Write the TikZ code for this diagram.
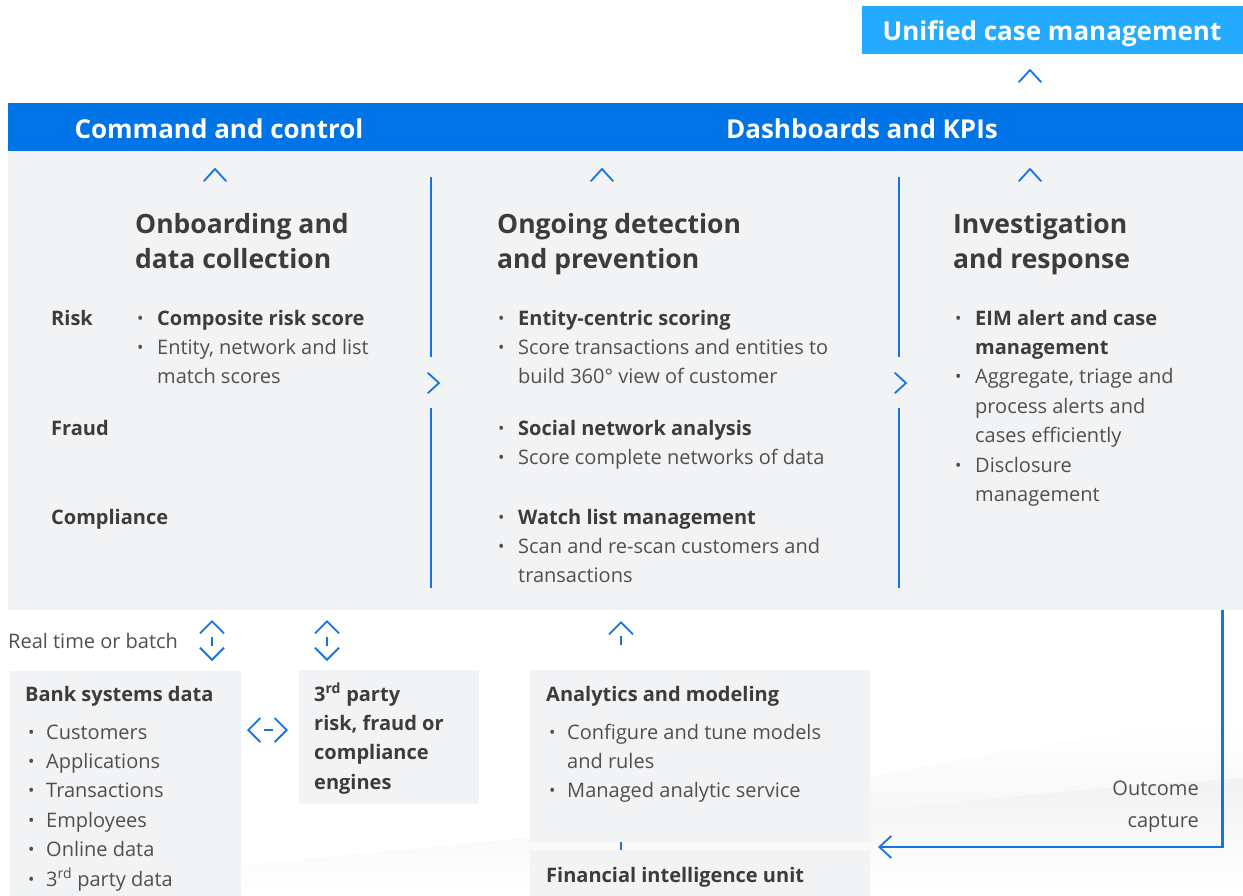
\documentclass[tikz,border=0pt]{standalone}
\usepackage{fontspec}
\setmainfont{Open Sans}
\usepackage{tikz}
\usetikzlibrary{arrows.meta, calc, positioning}

\definecolor{barblue}{HTML}{0073E6}
\definecolor{skyblue}{HTML}{24ABFF}
\definecolor{panelgrey}{HTML}{F2F3F5}
\definecolor{inkgrey}{HTML}{3C3C3C}
\definecolor{bodygrey}{HTML}{4F4F4F}
\definecolor{lineblue}{HTML}{1673E6}

\newcommand{\hdfont}{\fontsize{26.5}{35}\selectfont\bfseries}
\newcommand{\bdfont}{\fontsize{20}{29.4}\selectfont}
\newcommand{\barfont}{\fontsize{26}{30}\selectfont\bfseries}
\newcommand{\itm}[1][20pt]{\makebox[#1][l]{\raisebox{0.05em}{\scalebox{0.85}{\textbullet}}}}
\newcommand{\ind}[1][20pt]{\hspace*{#1}}
\newcommand{\bld}[1]{\textbf{\color{inkgrey}#1}}

\newcommand{\chevup}[2]{\draw[chev] ({#1-11},{#2+12}) -- (#1,#2) -- ({#1+11},{#2+12});}
\newcommand{\chevright}[2]{\draw[chev] ({#1-11},{#2-10}) -- (#1,#2) -- ({#1-11},{#2+10});}

\tikzset{
    boxnode/.style = {draw=none, fill=panelgrey, rectangle, inner sep=0em, anchor=north west},
    barnode/.style = {draw=none, fill=barblue, rectangle, inner sep=0em, anchor=north west},
    headnode/.style = {draw=none, fill=none, rectangle, inner sep=0em, anchor=base west,
      align=left, text=inkgrey, font=\hdfont},
    textnode/.style = {draw=none, fill=none, rectangle, inner sep=0em, anchor=base west,
      align=left, text=bodygrey, font=\bdfont},
    boldnode/.style = {textnode, text=inkgrey, font=\bdfont\bfseries},
    whitenode/.style = {draw=none, fill=none, inner sep=0em, anchor=base, text=white, font=\barfont},
    chev/.style = {draw=lineblue, line width=1.8pt, line cap=round, line join=round},
    divider/.style = {draw=lineblue, line width=2.4pt},
    connect/.style = {lineblue, line width=2.4pt,
      -{Straight Barb[length=12pt, width=22pt, line width=1.8pt]}},
    biconnect/.style = {lineblue, line width=1.8pt,
      {Straight Barb[length=12pt, width=24pt]}-{Straight Barb[length=12pt, width=24pt]},
      dash pattern=on 0pt off 15pt on 9pt off 40pt},
    upconnect/.style = {lineblue, line width=1.8pt, {Straight Barb[length=12pt, width=24pt]}-,
      dash pattern=on 0pt off 13pt on 10pt off 40pt}
}

\begin{document}
\begin{tikzpicture}[x=1pt, y=-1pt]
\useasboundingbox (0,0) rectangle (1243,895);
\clip (0,0) rectangle (1243,895);

% soft backdrop swoosh
\shade[top color=black!5, bottom color=white] (0,895) -- (0,885)
  .. controls (400,855) and (800,805) .. (1243,778) -- (1243,895) -- cycle;
\shade[top color=white, bottom color=black!4] (640,840)
  .. controls (850,812) and (1050,790) .. (1243,778) -- (1243,720)
  .. controls (1000,740) and (800,790) .. (640,840) -- cycle;

% top: case management and bar
\node [draw=none, fill=skyblue, rectangle, inner sep=0em, anchor=north west,
  minimum width=381pt, minimum height=48pt, name=ucm] at (862,6) {};
\node [whitenode, name=ucmtext] at (1052,40) {Unified case management};
\chevup{1030}{70}

\node [barnode, name=bar, minimum width=1235pt, minimum height=48pt] at (8,103) {};
\node [whitenode, name=cmd] at (219,138) {Command and control};
\node [whitenode, name=kpis] at (862,138) {Dashboards and KPIs};

% main panel
\node [boxnode, name=panel, minimum width=1235pt, minimum height=459pt] at (8,151) {};
\chevup{215}{169}
\chevup{602}{169}
\chevup{1030}{169}

\draw [divider] (431,177) -- (431,357);
\draw [divider] (431,408) -- (431,588);
\chevright{439}{383}
\draw [divider] (899,177) -- (899,357);
\draw [divider] (899,408) -- (899,588);
\chevright{906}{383}

% multi-line nodes sit on their last line
\node [headnode, name=onboard] at (135,268) {Onboarding and\\data collection};
\node [headnode, name=ongoing] at (497,268) {Ongoing detection\\and prevention};
\node [headnode, name=invest] at (953,268) {Investigation\\and response};

\node [boldnode, name=risk] at (51,325) {Risk};
\node [boldnode, name=fraud] at (51,435) {Fraud};
\node [boldnode, name=compl] at (51,524) {Compliance};

\node [textnode, name=riskitems] at (137,383.8) {\itm\bld{Composite risk score}\\
  \itm Entity, network and list\\\ind match scores};

\node [textnode, name=entity] at (498,383.8) {\itm\bld{Entity-centric scoring}\\
  \itm Score transactions and entities to\\\ind build 360° view of customer};
\node [textnode, name=social] at (498,464.4) {\itm\bld{Social network analysis}\\
  \itm Score complete networks of data};
\node [textnode, name=watch] at (498,582.8) {\itm\bld{Watch list management}\\
  \itm Scan and re-scan customers and\\\ind transactions};

\node [textnode, name=eim] at (955,501.4) {\itm\bld{EIM alert and case}\\\ind\bld{management}\\
  \itm Aggregate, triage and\\\ind process alerts and\\\ind cases efficiently\\
  \itm Disclosure\\\ind management};

% lower boxes
\node [textnode, name=rtb] at (8,648) {Real time or batch};

\node [boxnode, name=bank, minimum width=231pt, minimum height=240pt] at (10,671) {};
\node [boxnode, name=third, minimum width=180pt, minimum height=134pt] at (299,670) {};
\node [boxnode, name=analytics, minimum width=340pt, minimum height=172pt] at (530,670) {};
\node [boxnode, name=fiu, minimum width=340pt, minimum height=60pt] at (530,850) {};

\node [boldnode, name=banktitle] at (25,701) {Bank systems data};
\node [textnode, name=bankitems] at (28,886) {\itm[18pt]Customers\\\itm[18pt]Applications\\
  \itm[18pt]Transactions\\\itm[18pt]Employees\\\itm[18pt]Online data\\
  \itm[18pt]3\textsuperscript{rd} party data};

\node [boldnode, name=thirdtitle] at (314,789.2) {3\textsuperscript{rd} party\\risk, fraud or\\compliance\\engines};

\node [boldnode, name=antitle] at (546,701) {Analytics and modeling};
\node [textnode, name=anitems] at (549,797.8) {\itm[18pt]Configure and tune models\\
  \ind[18pt]and rules\\\itm[18pt]Managed analytic service};
\node [boldnode, name=fiutitle] at (546,882) {Financial intelligence unit};

\node [textnode, name=outcome, anchor=base east, align=right,
  font=\fontsize{20}{32}\selectfont] at (1199,827) {Outcome\\capture};

% connectors
\coordinate (rt1) at (212,620);
\coordinate (rb1) at (212,661);
\coordinate (rt2) at (327,620);
\coordinate (rb2) at (327,661);
\coordinate (lr1) at (247,730);
\coordinate (lr2) at (288,730);
\coordinate (an1) at (621,621);
\coordinate (an2) at (621,645);
\coordinate (ret) at (878,847);

\draw [biconnect] (rt1) -- (rb1);
\draw [biconnect] (rt2) -- (rb2);
\draw [biconnect] (lr1) -- (lr2);
\draw [upconnect] (an1) -- (an2);
\draw [divider] ([xshift=-79pt]analytics.south) -- ([xshift=-79pt]fiu.north);
\draw [connect] ([xshift=-21pt]panel.south east) |- (ret);

\end{tikzpicture}
\end{document}
